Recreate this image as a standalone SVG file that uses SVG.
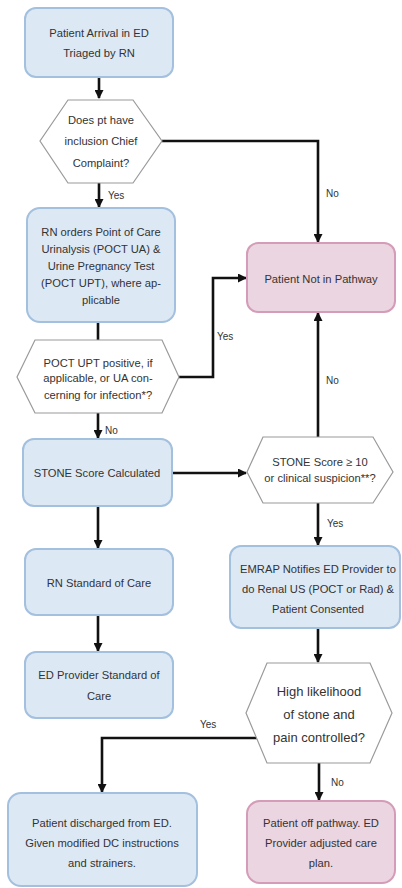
<svg xmlns="http://www.w3.org/2000/svg" width="402" height="888" viewBox="0 0 402 888">
<defs>
<style>
.b{fill:#dde8f5;stroke:#a3c0de;stroke-width:2}
.p{fill:#ead5e1;stroke:#d49cb8;stroke-width:2}
.d{fill:#fff;stroke:#9a9a9a;stroke-width:1.2}
text{font-family:"Liberation Sans",Arial,sans-serif;font-size:11.2px;fill:#333;text-anchor:middle}
.l{text-anchor:start;font-size:10px}
.big{font-size:13px}
.c{fill:none;stroke:#111;stroke-width:2.6}
</style>
<marker id="a" markerUnits="userSpaceOnUse" markerWidth="9" markerHeight="9" refX="8" refY="4.5" orient="auto">
<path d="M0,0 L9,4.5 L0,9 z" fill="#111"/>
</marker>
</defs>
<rect width="402" height="888" fill="#fff"/>
<g id="connectors">
<path class="c" d="M99,77 V98" marker-end="url(#a)"/>
<path class="c" d="M162,141 H318 V242" marker-end="url(#a)"/>
<path class="c" d="M99,183 V207" marker-end="url(#a)"/>
<path class="c" d="M98,322 V340"/>
<path class="c" d="M179,377 H213 V278 H246" marker-end="url(#a)"/>
<path class="c" d="M98,413 V438" marker-end="url(#a)"/>
<path class="c" d="M172,473 H246" marker-end="url(#a)"/>
<path class="c" d="M318,437 V313" marker-end="url(#a)"/>
<path class="c" d="M318,503 V545" marker-end="url(#a)"/>
<path class="c" d="M98,506 V548" marker-end="url(#a)"/>
<path class="c" d="M98,615 V651" marker-end="url(#a)"/>
<path class="c" d="M318,628 V662" marker-end="url(#a)"/>
<path class="c" d="M262,738 H102 V792" marker-end="url(#a)"/>
<path class="c" d="M319,763 V800" marker-end="url(#a)"/>
<text class="l" x="108" y="199">Yes</text>
<text class="l" x="326" y="197">No</text>
<text class="l" x="217" y="340">Yes</text>
<text class="l" x="105" y="434">No</text>
<text class="l" x="326" y="384">No</text>
<text class="l" x="327" y="527">Yes</text>
<text class="l" x="200" y="728">Yes</text>
<text class="l" x="331" y="786">No</text>
</g>
<g id="n1"><rect class="b" x="25" y="8" width="148" height="69" rx="11"/>
<text x="99" y="37">Patient Arrival in ED</text><text x="99" y="57">Triaged by RN</text></g>
<g id="n2"><polygon class="d" points="68,100 133,100 162,141 133,183 68,183 40,141"/>
<text x="101" y="124">Does pt have</text><text x="101" y="145">inclusion Chief</text><text x="101" y="167">Complaint?</text></g>
<g id="n3"><rect class="b" x="27" y="208" width="148" height="114" rx="13"/>
<text x="101" y="236">RN orders Point of Care</text><text x="101" y="253">Urinalysis (POCT UA) &amp;</text><text x="101" y="270">Urine Pregnancy Test</text><text x="101" y="287">(POCT UPT), where ap-</text><text x="101" y="304">plicable</text></g>
<g id="n4"><rect class="p" x="247" y="243" width="148" height="69" rx="11"/>
<text x="321" y="283">Patient Not in Pathway</text></g>
<g id="n5"><polygon class="d" points="35,340 162,340 179,377 162,413 35,413 17,377"/>
<text x="98" y="367">POCT UPT positive, if</text><text x="98" y="382">applicable, or UA con-</text><text x="98" y="399">cerning for infection*?</text></g>
<g id="n6"><rect class="b" x="23" y="439" width="149" height="67" rx="11"/>
<text x="97" y="477">STONE Score Calculated</text></g>
<g id="n7"><polygon class="d" points="263,437 373,437 393,472 373,503 263,503 247,472"/>
<text x="320" y="466">STONE Score ≥ 10</text><text x="320" y="482">or clinical suspicion**?</text></g>
<g id="n8"><rect class="b" x="25" y="549" width="148" height="66" rx="11"/>
<text x="99" y="587">RN Standard of Care</text></g>
<g id="n9"><rect class="b" x="230" y="546" width="170" height="82" rx="11"/>
<text x="318" y="573">EMRAP Notifies ED Provider to</text><text x="318" y="593">do Renal US (POCT or Rad) &amp;</text><text x="318" y="613">Patient Consented</text></g>
<g id="n10"><rect class="b" x="25" y="652" width="148" height="66" rx="11"/>
<text x="99" y="679">ED Provider Standard of</text><text x="99" y="700">Care</text></g>
<g id="n11"><polygon class="d" points="267,663 370,663 392,713 370,763 267,763 246,713"/>
<text class="big" x="319" y="696">High likelihood</text><text class="big" x="319" y="719">of stone and</text><text class="big" x="319" y="742">pain controlled?</text></g>
<g id="n12"><rect class="b" x="8" y="793" width="189" height="93" rx="13"/>
<text x="102" y="827">Patient discharged from ED.</text><text x="102" y="847">Given modified DC instructions</text><text x="102" y="867">and strainers.</text></g>
<g id="n13"><rect class="p" x="247" y="801" width="148" height="82" rx="13"/>
<text x="321" y="827">Patient off pathway. ED</text><text x="321" y="847">Provider adjusted care</text><text x="321" y="867">plan.</text></g>
</svg>
